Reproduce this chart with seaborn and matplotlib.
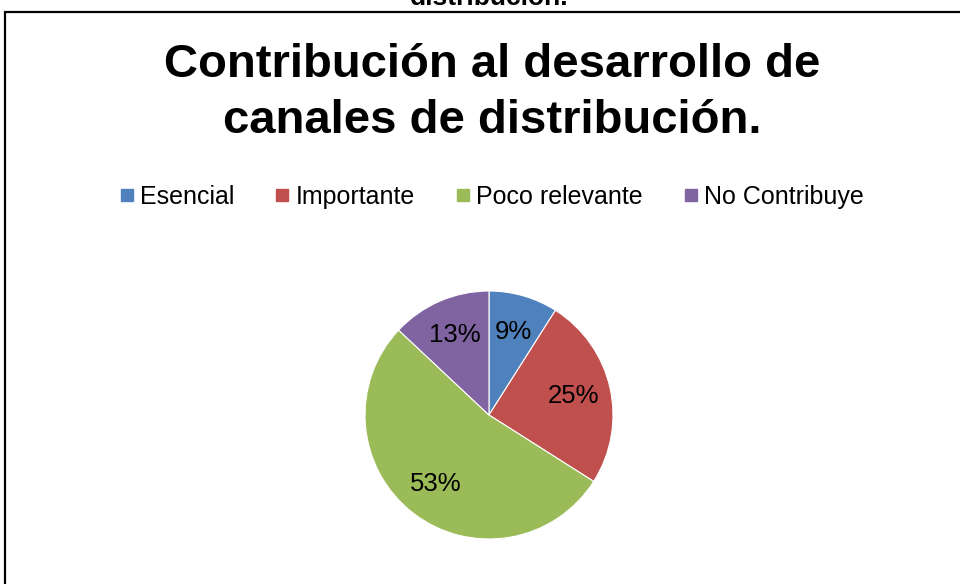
import matplotlib.pyplot as plt
import matplotlib.patches as mpatches
from matplotlib.lines import Line2D
import seaborn as sns

# --- DATA ---
categorias = ["Esencial", "Importante", "Poco relevante", "No Contribuye"]
porcentajes = [9, 25, 53, 13]
colores = ["#4F81BD", "#C0504D", "#9BBB59", "#8064A2"]

sns.set_theme(style="white")
plt.rcParams["font.family"] = ["Liberation Sans", "DejaVu Sans"]
plt.rcParams["text.color"] = "black"

fig = plt.figure(figsize=(9.6, 5.84), dpi=100)

# texto cortado arriba (como en la imagen original)
fig.text(0.51, 1 - 5 / 584, "distribución.", ha="center", va="baseline",
         fontsize=19, fontweight="bold", color="black")

# marco del gráfico (se sale por la derecha y abajo)
marco = mpatches.Rectangle((5 / 960, -0.1), 1.2, 1.1 - 12 / 584,
                           transform=fig.transFigure, fill=False,
                           edgecolor="black", linewidth=1.6)
fig.patches.append(marco)

# --- TITULO ---
fig.text(0.513, 1 - 65 / 584, "Contribución al desarrollo de", ha="center",
         va="center", fontsize=34, fontweight="bold", color="black")
fig.text(0.513, 1 - 121 / 584, "canales de distribución.", ha="center",
         va="center", fontsize=34, fontweight="bold", color="black")

# --- LEYENDA ---
handles = [Line2D([0], [0], marker="s", linestyle="", markersize=9,
                  markerfacecolor=c, markeredgecolor=c) for c in colores]
fig.legend(handles, categorias, loc="center", bbox_to_anchor=(0.512, 1 - 197 / 584),
           ncol=4, frameon=False, fontsize=18, handlelength=0.6,
           handletextpad=0.25, columnspacing=1.6, labelcolor="black")

# --- PIE ---
cx, cy, r = 489, 415, 124
ax = fig.add_axes([(cx - r) / 960, (584 - cy - r) / 584, 2 * r / 960, 2 * r / 584])
ax.pie(porcentajes, colors=colores, startangle=90, counterclock=False,
       autopct=lambda p: f"{round(p):d}%", pctdistance=0.7, radius=1.0,
       wedgeprops={"edgecolor": "white", "linewidth": 0.8},
       textprops={"fontsize": 18.5, "color": "black"})
ax.set_aspect("equal")
ax.set_xlim(-1, 1)
ax.set_ylim(-1, 1)
ax.axis("off")

fig.savefig("out.png", dpi=100)
